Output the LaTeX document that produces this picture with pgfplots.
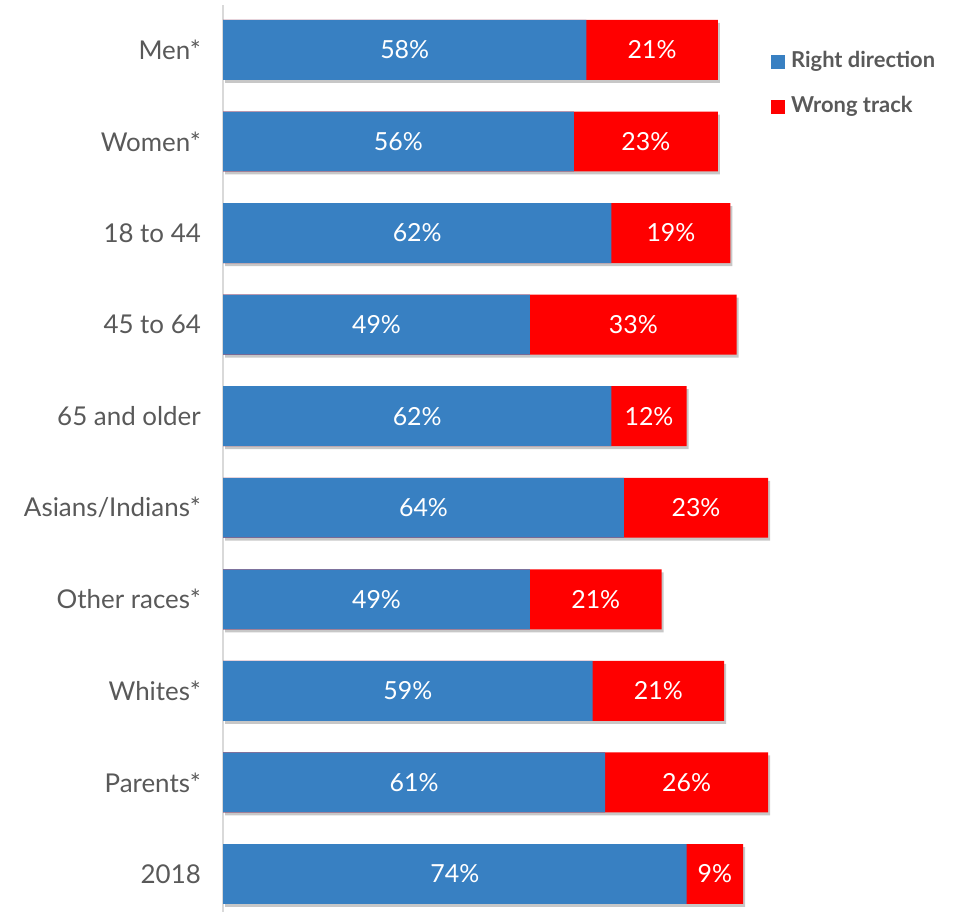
\documentclass[border=0pt]{standalone}
\usepackage{pgfplots}
\pgfplotsset{compat=1.18}
\usepackage{pgfplotstable}
\usepackage{fontspec}
\setmainfont{Lato}
\usetikzlibrary{shadows}
\definecolor{bluec}{RGB}{56,128,194}
\definecolor{redc}{RGB}{255,0,0}
\definecolor{txt}{RGB}{89,89,89}
\definecolor{axl}{RGB}{217,217,217}
\pgfplotstableread{
y right wrong
9 58 21
8 56 23
7 62 19
6 49 33
5 62 12
4 64 23
3 49 21
2 59 21
1 61 26
0 74 9
}\data
\begin{document}
\begin{tikzpicture}
\useasboundingbox (0,0) rectangle (955bp,912bp);
\begin{axis}[
  at={(223bp,0bp)}, anchor=south west,
  scale only axis, width=626.5bp, height=907bp,
  xmin=0, xmax=100, ymin=-0.415, ymax=9.491,
  clip=false,
  /pgf/number format/assume math mode=true,
  axis x line=none,
  axis y line*=left,
  y axis line style={draw=axl, line width=1.5bp},
  ytick={0,...,9},
  yticklabels={2018,Parents*,Whites*,Other races*,Asians/Indians*,65 and older,45 to 64,18 to 44,Women*,Men*},
  major tick length=0pt,
  yticklabel style={anchor=east, inner sep=0pt, xshift=-22bp, font=\fontsize{26}{26}\selectfont, text=txt},
  legend image code/.code={\fill[#1] (0bp,-7bp) rectangle (14bp,7bp);},
  legend cell align=left,
  legend style={at={(0.8747,0.948)}, anchor=north west, draw=none, fill=none, inner sep=0pt,
    font=\bfseries\fontsize{22}{22}\selectfont, text=txt, row sep=26bp, column sep=6bp,
    nodes={inner sep=0pt, text height=15bp, text depth=4bp}},
]
\addlegendimage{fill=bluec, draw=none}
\addlegendentry{Right direction}
\addlegendimage{fill=redc, draw=none}
\addlegendentry{Wrong track}
% total bar (red) with shadow
\addplot[forget plot, xbar, bar shift=0pt, bar width=0.655, fill=redc, draw=none,
  drop shadow={shadow xshift=2bp, shadow yshift=-3bp, fill=black, opacity=0.22}]
  table[x expr=\thisrow{right}+\thisrow{wrong}, y=y]{\data};
% blue bar
\addplot[forget plot, xbar, bar shift=0pt, bar width=0.655, fill=bluec, draw=none]
  table[x=right, y=y]{\data};
% labels
\addplot[forget plot, draw=none, mark=none, point meta=explicit,
  nodes near coords={\pgfmathprintnumber{\pgfplotspointmeta}\%},
  every node near coord/.append style={anchor=center, text=white, font=\fontsize{25}{25}\selectfont}]
  table[x expr=\thisrow{right}/2, y=y, meta=right]{\data};
\addplot[forget plot, draw=none, mark=none, point meta=explicit,
  nodes near coords={\pgfmathprintnumber{\pgfplotspointmeta}\%},
  every node near coord/.append style={anchor=center, text=white, font=\fontsize{25}{25}\selectfont}]
  table[x expr=\thisrow{right}+\thisrow{wrong}/2, y=y, meta=wrong]{\data};
\end{axis}
\end{tikzpicture}
\end{document}
